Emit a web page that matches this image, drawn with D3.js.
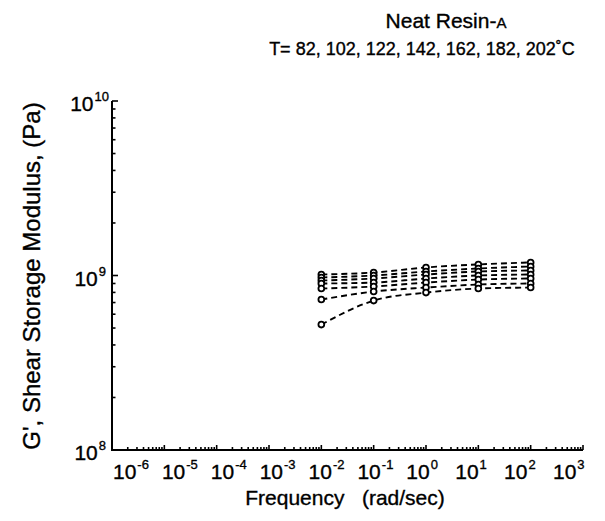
<html>
    <head>
        <title>Neat Resin-A</title>
        <script src="https://d3js.org/d3.v7.min.js"></script>
        <style>
        body { margin: 0; background: #fff; }
        text { font-family: "Liberation Sans", Arial, sans-serif; fill: #000; stroke: #000; stroke-width: 0.35px; }
        </style>
    </head>
    <body>
        <svg id="chart" width="605" height="521"></svg>
        <script>
            // data
            const freq = [0.01, 0.1, 1, 10, 100];
            const temps = [82, 102, 122, 142, 162, 182, 202];
            const g82  = [1.013e9, 1.040e9, 1.112e9, 1.157e9, 1.188e9];
            const g102 = [0.974e9, 1.000e9, 1.054e9, 1.097e9, 1.126e9];
            const g122 = [0.936e9, 0.961e9, 1.013e9, 1.054e9, 1.068e9];
            const g142 = [0.900e9, 0.911e9, 0.961e9, 1.000e9, 1.013e9];
            const g162 = [0.842e9, 0.865e9, 0.911e9, 0.948e9, 0.961e9];
            const g182 = [0.728e9, 0.809e9, 0.853e9, 0.888e9, 0.900e9];
            const g202 = [0.523e9, 0.718e9, 0.798e9, 0.842e9, 0.853e9];
            const series = [g82, g102, g122, g142, g162, g182, g202];

            const xExps = [-6, -5, -4, -3, -2, -1, 0, 1, 2, 3];
            const yExps = [8, 9, 10];

            const svg = d3.select("#chart");
            const margin = {left: 112, right: 22, top: 101, bottom: 71};
            const W = +svg.attr("width"), H = +svg.attr("height");

            const x = d3.scaleLog().domain([1e-6, 1e3]).range([margin.left, W - margin.right]);
            const y = d3.scaleLog().domain([1e8, 1e10]).range([H - margin.bottom, margin.top]);
            // tick labels were set by hand on the original, slightly tighter than the decades
            const xLab = d3.scaleLinear().domain([-6, 3]).range([113, 553]);

            // axes: left and bottom only, ticks pointing inward
            const ax = svg.append("g");
            ax.append("line")
                .attr("x1", x.range()[0]).attr("x2", x.range()[1])
                .attr("y1", y(1e8)).attr("y2", y(1e8))
                .attr("stroke", "#000").attr("stroke-width", 2);
            ax.append("line")
                .attr("x1", x(1e-6)).attr("x2", x(1e-6))
                .attr("y1", y(1e8) + 1).attr("y2", y(1e10))
                .attr("stroke", "#000").attr("stroke-width", 2);

            const isMajor = v => Math.abs(Math.log10(v) - Math.round(Math.log10(v))) < 1e-9;

            ax.selectAll("line.xt")
                .data(x.ticks().filter(v => v > 1e-6))
                .join("line").attr("class", "xt")
                .attr("x1", d => x(d)).attr("x2", d => x(d))
                .attr("y1", y(1e8)).attr("y2", d => y(1e8) - (isMajor(d) ? 5 : 3))
                .attr("stroke", "#000").attr("stroke-width", 1.6);

            ax.selectAll("line.yt")
                .data(y.ticks().filter(v => v > 1e8))
                .join("line").attr("class", "yt")
                .attr("y1", d => y(d)).attr("y2", d => y(d))
                .attr("x1", x(1e-6)).attr("x2", d => x(1e-6) + (isMajor(d) ? 6 : 3.5))
                .attr("stroke", "#000").attr("stroke-width", 1.6);

            // x tick labels
            const xl = svg.selectAll("text.xl").data(xExps).join("text")
                .attr("class", "xl")
                .attr("x", d => xLab(d))
                .attr("y", y(1e8) + 29)
                .style("font-size", "21px");
            xl.append("tspan").text("10");
            xl.append("tspan").attr("dy", -10).attr("dx", 1).style("font-size", "13px").text(d => d);

            // y tick labels
            const yl = svg.selectAll("text.yl").data(yExps).join("text")
                .attr("class", "yl")
                .attr("x", d => d === 10 ? 109 : 106)
                .attr("y", d => y(Math.pow(10, d)) + 10)
                .attr("text-anchor", "end")
                .style("font-size", "21px");
            yl.append("tspan").text("10");
            yl.append("tspan").attr("dy", -10).attr("dx", 1).style("font-size", "13px").text(d => d);

            // curves
            const line = d3.line()
                .x((d, i) => x(freq[i]))
                .y(d => y(d))
                .curve(d3.curveMonotoneX);

            svg.selectAll("path.curve").data(series).join("path")
                .attr("class", "curve")
                .attr("d", line)
                .attr("fill", "none")
                .attr("stroke", "#000")
                .attr("stroke-width", 1.9)
                .attr("stroke-dasharray", "6,4");

            series.forEach((s, k) => {
                svg.selectAll("circle.s" + k).data(s).join("circle")
                    .attr("class", "s" + k)
                    .attr("cx", (d, i) => x(freq[i]))
                    .attr("cy", d => y(d))
                    .attr("r", 2.9)
                    .attr("fill", "#fff")
                    .attr("stroke", "#000")
                    .attr("stroke-width", 1.8);
            });

            // titles
            const t1 = svg.append("text")
                .attr("x", 446).attr("y", 28)
                .attr("text-anchor", "middle")
                .style("font-size", "21px");
            t1.append("tspan").text("Neat Resin-");
            t1.append("tspan").style("font-size", "15px").text("A");

            svg.append("text")
                .attr("x", 422).attr("y", 55)
                .attr("text-anchor", "middle")
                .style("font-size", "18px")
                .text("T= " + temps.join(", ") + "\u02DAC");

            svg.append("text")
                .attr("x", 345).attr("y", 505)
                .attr("text-anchor", "middle")
                .style("font-size", "21px")
                .style("white-space", "pre")
                .text("Frequency   (rad/sec)");

            svg.append("text")
                .attr("transform", "translate(40," + 276 + ") rotate(-90)")
                .attr("text-anchor", "middle")
                .style("font-size", "24px")
                .text("G', Shear Storage Modulus, (Pa)");
        </script>
    </body>
</html>
